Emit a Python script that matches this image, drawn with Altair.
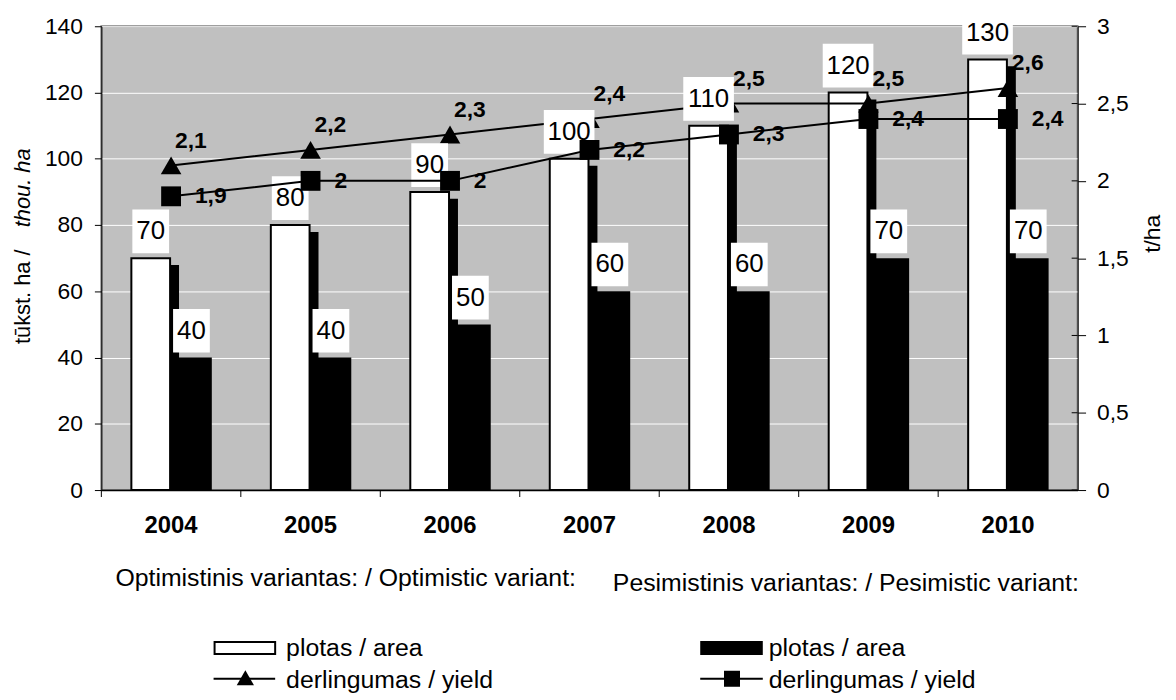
import altair as alt
import pandas as pd

# ---- data ----
years = ["2004", "2005", "2006", "2007", "2008", "2009", "2010"]
opt_area = [70, 80, 90, 100, 110, 120, 130]
pes_area = [40, 40, 50, 60, 60, 70, 70]
opt_yield = [2.1, 2.2, 2.3, 2.4, 2.5, 2.5, 2.6]
pes_yield = [1.9, 2.0, 2.0, 2.2, 2.3, 2.4, 2.4]

left_ticks = [0, 20, 40, 60, 80, 100, 120, 140]
right_ticks = [0, 0.5, 1, 1.5, 2, 2.5, 3]

y_title_main = "tūkst. ha /"
y_title_italic = "thou. ha"
y2_title = "t/ha"
legend_titles = ["Optimistinis variantas: / Optimistic variant:",
                 "Pesimistinis variantas: / Pesimistic variant:"]
legend_area = "plotas / area"
legend_yield = "derlingumas / yield"

df = pd.DataFrame({"year": years, "opt_area": opt_area, "pes_area": pes_area,
                   "opt_yield": opt_yield, "pes_yield": pes_yield})
df_rt = pd.DataFrame({"v": right_ticks})

FONT = "Liberation Sans"
W, H = 983, 467
BW = 41

xs = alt.Scale(paddingInner=0, paddingOuter=0)
ysL = alt.Scale(domain=[0, 140], nice=False)
ysR = alt.Scale(domain=[0, 3], nice=False)


def X(**kw):
    return alt.X("year:N", title=None, scale=xs, sort=years, **kw)


left_axis = alt.Axis(orient="left", values=left_ticks, grid=True, gridColor="white",
                     gridWidth=1, tickSize=7, tickColor="black", domainColor="black",
                     labelFontSize=23, labelPadding=12, labelColor="black", title=None,
                     labelFont=FONT)
right_axis = alt.Axis(orient="right", values=right_ticks, grid=False, tickSize=8,
                      tickColor="black", domainColor="black", labelFontSize=23,
                      labelPadding=11, labelColor="black", title=None, labelFont=FONT,
                      labelExpr="replace(format(datum.value, '~g'), '.', ',')")

base = alt.Chart(df)

shadow = base.mark_bar(width=BW, xOffset=-BW / 2 + 8, yOffset=7, color="black").encode(
    x=X(), y=alt.Y("opt_area:Q", scale=ysL, axis=left_axis, stack=None))
opt_bars = base.mark_bar(width=BW - 2, xOffset=-BW / 2, fill="white", stroke="black",
                         strokeWidth=2).encode(
    x=X(), y=alt.Y("opt_area:Q", scale=ysL, axis=None, stack=None))
pes_bars = base.mark_bar(width=BW, xOffset=BW / 2, color="black").encode(
    x=X(), y=alt.Y("pes_area:Q", scale=ysL, axis=None, stack=None))

opt_line = base.mark_line(color="black", strokeWidth=2).encode(
    x=X(), y=alt.Y("opt_yield:Q", scale=ysR, axis=right_axis))
opt_pts = base.mark_point(shape="triangle-up", filled=True, size=430, color="black",
                          opacity=1).encode(
    x=X(), y=alt.Y("opt_yield:Q", scale=ysR, axis=None))


def boxes(field, cond, width, off):
    return base.transform_filter(cond).mark_bar(
        width=width, xOffset=off, yOffset=-49, y2Offset=-5, color="white").encode(
        x=X(), y=alt.Y(f"{field}:Q", scale=ysL, axis=None, stack=None),
        y2=alt.Y2(f"{field}:Q"))


opt_box2 = boxes("opt_area", "datum.opt_area < 100", 37, -BW / 2)
opt_box3 = boxes("opt_area", "datum.opt_area >= 100", 51, -BW / 2)
pes_box = boxes("pes_area", "datum.pes_area < 100", 37, BW / 2)

opt_lab = base.mark_text(font=FONT, fontSize=26, dy=-27, xOffset=-BW / 2,
                         baseline="middle", color="black").encode(
    x=X(), y=alt.Y("opt_area:Q", scale=ysL, axis=None), text="opt_area:Q")
pes_lab = base.mark_text(font=FONT, fontSize=26, dy=-27, xOffset=BW / 2,
                         baseline="middle", color="black").encode(
    x=X(), y=alt.Y("pes_area:Q", scale=ysL, axis=None), text="pes_area:Q")

pes_line = base.mark_line(color="black", strokeWidth=2).encode(
    x=X(), y=alt.Y("pes_yield:Q", scale=ysR, axis=None))
pes_pts = base.mark_point(shape="square", filled=True, size=400, color="black",
                          opacity=1).encode(
    x=X(), y=alt.Y("pes_yield:Q", scale=ysR, axis=None))

opt_ylab = base.transform_calculate(
    lab="replace(toString(datum.opt_yield), '.', ',')").mark_text(
    font=FONT, fontSize=23, fontWeight="bold", align="left", baseline="middle",
    dx=4, dy=-25, color="black").encode(
    x=X(), y=alt.Y("opt_yield:Q", scale=ysR, axis=None), text="lab:N")
pes_ylab = base.transform_calculate(
    lab="replace(toString(datum.pes_yield), '.', ',')").mark_text(
    font=FONT, fontSize=23, fontWeight="bold", align="left", baseline="middle",
    dx=24, dy=0, color="black").encode(
    x=X(), y=alt.Y("pes_yield:Q", scale=ysR, axis=None), text="lab:N")

xticks = base.mark_rule(color="black", strokeWidth=1).encode(
    x=X(bandPosition=0), y=alt.value(H), y2=alt.value(H + 7))

rticks_in = alt.Chart(df_rt).mark_rule(color="black", strokeWidth=1).encode(
    y=alt.Y("v:Q", scale=ysR, axis=None), x=alt.value(W - 6), x2=alt.value(W))


def one(s):
    return alt.Chart(pd.DataFrame({"t": [s]}))


def txt(s, x, y, size=25, **kw):
    return one(s).mark_text(font=FONT, fontSize=size, color="black", **kw).encode(
        text="t:N", x=alt.value(x), y=alt.value(y))


ytitle1 = txt(y_title_main, -79, 320, size=22, angle=270, align="left",
              baseline="middle")
ytitle2 = txt(y_title_italic, -79, 123, size=22, angle=270, align="right",
              baseline="middle", fontStyle="italic")
y2title = txt(y2_title, 1059, 209, size=23, angle=270, align="center",
              baseline="middle")

leg_t1 = txt(legend_titles[0], 246, 564, align="center", baseline="alphabetic")
leg_t2 = txt(legend_titles[1], 515, 569, align="left", baseline="alphabetic")

sw1 = one("a").mark_rect(fill="white", stroke="black", strokeWidth=2).encode(
    x=alt.value(114), x2=alt.value(175), y=alt.value(620), y2=alt.value(632))
sw2 = one("b").mark_rect(fill="black").encode(
    x=alt.value(603), x2=alt.value(666), y=alt.value(619), y2=alt.value(633))
leg_a1 = txt(legend_area, 186, 626, align="left", baseline="middle")
leg_a2 = txt(legend_area, 672, 626, align="left", baseline="middle")

LY = 657
ln1 = one("c").mark_rule(color="black", strokeWidth=2).encode(
    x=alt.value(113), x2=alt.value(175), y=alt.value(LY))
ln2 = one("d").mark_rule(color="black", strokeWidth=2).encode(
    x=alt.value(603), x2=alt.value(666), y=alt.value(LY))
tri = one("e").mark_point(shape="triangle-up", filled=True, size=300, color="black",
                          opacity=1).encode(x=alt.value(145), y=alt.value(LY - 1))
sq = one("f").mark_point(shape="square", filled=True, size=260, color="black",
                         opacity=1).encode(x=alt.value(635), y=alt.value(LY))
leg_y1 = txt(legend_yield, 186, LY + 1, align="left", baseline="middle")
leg_y2 = txt(legend_yield, 672, LY + 1, align="left", baseline="middle")

chart = alt.layer(
    shadow, opt_bars, pes_bars, opt_line, opt_pts,
    opt_box2, opt_box3, opt_lab, pes_box, pes_lab,
    pes_line, pes_pts, opt_ylab, pes_ylab, xticks, rticks_in,
    ytitle1, ytitle2, y2title, leg_t1, leg_t2, sw1, sw2, leg_a1, leg_a2,
    ln1, ln2, tri, sq, leg_y1, leg_y2,
).resolve_scale(y="independent").properties(
    width=W, height=H, autosize=alt.AutoSizeParams(type="none"),
    padding={"left": 94, "top": 16, "right": 91, "bottom": 209},
).configure_view(
    fill="#c0c0c0", stroke="#808080", strokeWidth=2
).configure_axisX(
    labelFont=FONT, labelFontSize=24, labelFontWeight="bold", labelColor="black",
    ticks=False, tickSize=0, domainColor="black", domainWidth=1.5, labelPadding=24,
    labelAngle=0, grid=False
)

chart.save("out.html", embed_options={"renderer": "svg", "actions": False})
